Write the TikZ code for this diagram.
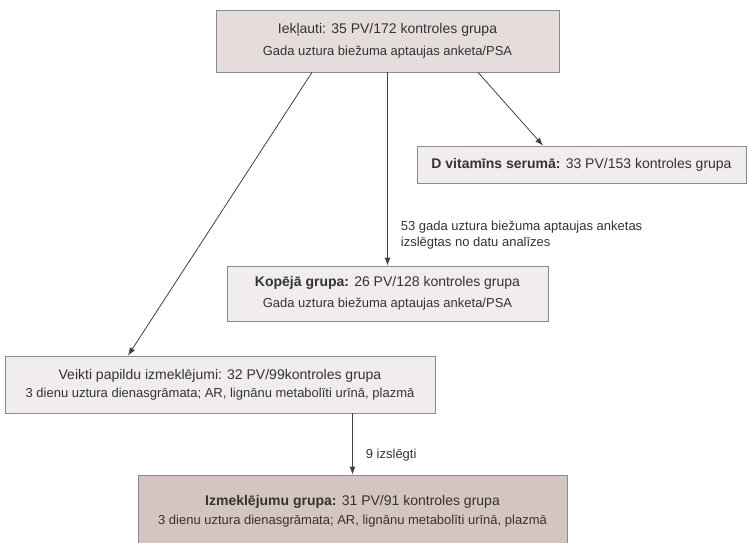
\documentclass[tikz,border=0pt]{standalone}
\usepackage{fontspec}
\setmainfont{Liberation Sans}
\usetikzlibrary{arrows.meta}

\definecolor{boxline}{HTML}{8C8A8A}
\definecolor{fillmain}{HTML}{E5DCDC}
\definecolor{filllight}{HTML}{F2EDED}
\definecolor{filldark}{HTML}{D5C5BF}
\definecolor{inktext}{HTML}{333333}
\definecolor{inkline}{HTML}{404040}

\newcommand{\bigline}{\fontsize{14}{17}\selectfont}
\newcommand{\smallline}{\fontsize{13}{16}\selectfont}

\begin{document}
\begin{tikzpicture}[
    x=1pt, y=-1pt,
    panel/.style={draw=boxline, line width=0.8pt, align=center, inner sep=0pt,
                  text=inktext},
    flow/.style={-{Latex[length=8pt, width=6pt]}, line width=0.8pt, draw=inkline},
    note/.style={align=left, text=inktext, font=\smallline, inner sep=2pt},
  ]
  \useasboundingbox (0,0) rectangle (748,542);

  % ---- included subjects ----
  \node[panel, fill=fillmain, minimum width=343pt, minimum height=62pt]
      (incl) at (387.5,41) {%
      {\bigline Iekļauti: 35 PV/172 kontroles grupa}\\[9pt]
      {\smallline Gada uztura biežuma aptaujas anketa/PSA}};

  % ---- serum vitamin D ----
  \node[panel, fill=filllight, minimum width=329pt, minimum height=37pt]
      (dvit) at (581.5,164.5) {%
      {\bigline\textbf{D vitamīns serumā:} 33 PV/153 kontroles grupa}};

  % ---- whole group ----
  \node[panel, fill=filllight, minimum width=321pt, minimum height=55pt]
      (kop) at (387.5,293.5) {%
      {\bigline\textbf{Kopējā grupa:} 26 PV/128 kontroles grupa}\\[8pt]
      {\smallline Gada uztura biežuma aptaujas anketa/PSA}};

  % ---- additional examinations ----
  \node[panel, fill=filllight, minimum width=430pt, minimum height=57pt]
      (veikti) at (220,384.5) {%
      {\bigline Veikti papildu izmeklējumi: 32 PV/99kontroles grupa}\\[5pt]
      {\smallline 3 dienu uztura dienasgrāmata; AR, lignānu metabolīti urīnā, plazmā}};

  % ---- study group ----
  \node[panel, fill=filldark, minimum width=429pt, minimum height=73pt]
      (izm) at (352.5,511.5) {%
      {\bigline\textbf{Izmeklējumu grupa:} 31 PV/91 kontroles grupa}\\[6pt]
      {\smallline 3 dienu uztura dienasgrāmata; AR, lignānu metabolīti urīnā, plazmā}};

  % ---- connectors ----
  \draw[flow] ([xshift=90.5pt]incl.south) -- ([xshift=-38.5pt]dvit.north);
  \draw[flow] (incl.south) -- node[note, pos=0.84, right=11pt]
      {53 gada uztura biežuma aptaujas anketas\\izslēgtas no datu analīzes} (kop.north);
  \draw[flow] ([xshift=-75.5pt]incl.south) -- ([xshift=-92pt]veikti.north);
  \draw[flow] (veikti.south -| izm.north) -- node[note, pos=0.68, right=11pt]
      {9 izslēgti} (izm.north);

\end{tikzpicture}
\end{document}
